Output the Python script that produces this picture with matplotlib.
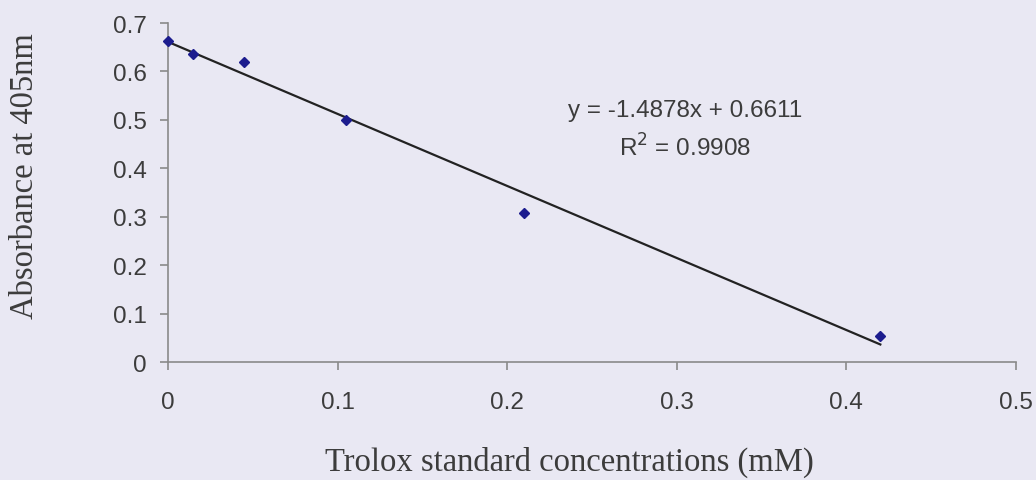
import matplotlib
matplotlib.use("Agg")
import matplotlib.pyplot as plt
import numpy as np

# Data
conc_mM = [0.0, 0.015, 0.045, 0.105, 0.21, 0.42]
absorbance = [0.663, 0.636, 0.619, 0.500, 0.307, 0.054]
slope = -1.4878
intercept = 0.6611
r_squared = 0.9908

x_ticks = [0, 0.1, 0.2, 0.3, 0.4, 0.5]
y_ticks = [0, 0.1, 0.2, 0.3, 0.4, 0.5, 0.6, 0.7]
x_label = "Trolox standard concentrations (mM)"
y_label = "Absorbance at 405nm"

bg = "#e9e8f3"
axis_col = "#8a8a8a"
text_col = "#3c3c3c"

fig = plt.figure(figsize=(10.36, 4.81), dpi=100, facecolor=bg)
ax = fig.add_axes([0.1622, 0.2453, 0.8185, 0.7047])
ax.set_facecolor(bg)

# trend line over data range
xl = np.array([min(conc_mM), max(conc_mM)])
ax.plot(xl, slope * xl + intercept, color="#222222", lw=1.6, zorder=2)
ax.plot(conc_mM, absorbance, linestyle="none", marker="D", markersize=5,
        color="#1c1c8e", zorder=3, clip_on=False)

ax.set_xlim(0, 0.5)
ax.set_ylim(0, 0.7)
ax.set_xticks(x_ticks)
ax.set_yticks(y_ticks)
ax.set_xticklabels([f"{t:g}" for t in x_ticks])
ax.set_yticklabels([f"{t:g}" for t in y_ticks])

for s in ["top", "right"]:
    ax.spines[s].set_visible(False)
for s in ["left", "bottom"]:
    ax.spines[s].set_color(axis_col)
    ax.spines[s].set_linewidth(1.2)

ax.tick_params(axis="both", direction="out", length=5.5, width=1.2, color=axis_col,
               labelcolor=text_col, labelsize=17.5)
ax.tick_params(axis="y", pad=10)
ax.tick_params(axis="x", pad=15.5)
for lab in ax.get_xticklabels() + ax.get_yticklabels():
    lab.set_family("Liberation Sans")

ax.set_xlabel(x_label, family="Liberation Serif", fontsize=23.5, color=text_col)
ax.xaxis.set_label_coords(569 / 1036, 1 - 471 / 481, transform=fig.transFigure)
ax.xaxis.label.set_va("baseline")
ax.set_ylabel(y_label, family="Liberation Serif", fontsize=23.5, color=text_col)
ax.yaxis.set_label_coords(25 / 1036, 1 - 176 / 481, transform=fig.transFigure)
ax.yaxis.label.set_va("center")

ax.text(0.305, 0.521, f"y = {slope}x + {intercept}", family="Liberation Sans",
        fontsize=17.5, color=text_col, ha="center", va="center")
ax.text(0.305, 0.445, f"R$^2$ = {r_squared}", family="Liberation Sans",
        fontsize=17.5, color=text_col, ha="center", va="center")

fig.savefig("out.png", dpi=100, facecolor=bg)
